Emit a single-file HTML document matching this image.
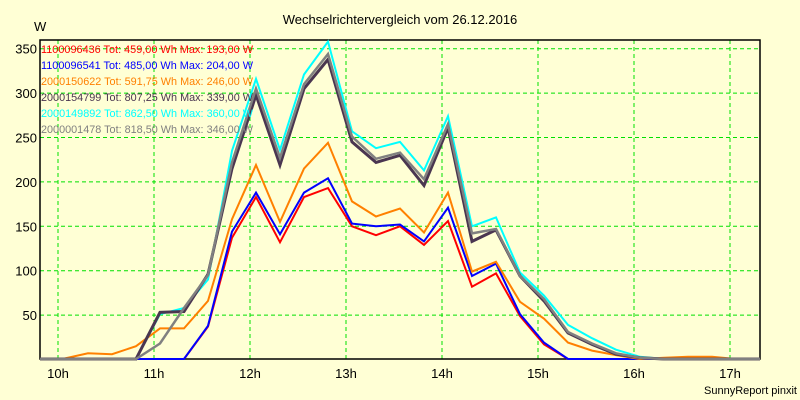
<!DOCTYPE html>
<html><head><meta charset="utf-8"><style>
html,body{margin:0;padding:0;background:#ffffd5;}
svg{display:block;font-family:"Liberation Sans",Arial,sans-serif;}
</style></head><body>
<svg id="chart" width="800" height="400" viewBox="0 0 800 400" xmlns="http://www.w3.org/2000/svg">
<rect width="800" height="400" fill="#ffffd5"/>
<text x="400" y="24" font-size="13" text-anchor="middle" fill="#000">Wechselrichtervergleich vom 26.12.2016</text>
<text x="34" y="31" font-size="13" fill="#000">W</text>
<text x="797" y="394" font-size="11" text-anchor="end" fill="#000">SunnyReport pinxit</text>
<g id="grid"></g>
<g id="axes"></g>
<g id="series"></g>
<g id="legend"></g>
</svg>
<script>
const startHour = 9.8125;
const stepHour = 0.25;
const yTicks = [50,100,150,200,250,300,350];
const xTicks = [10,11,12,13,14,15,16,17];
const seriesNames = ["1100096436","1100096541","2000150622","2000154799","2000149892","2000001478"];
const seriesTot = ["459,00","485,00","591,75","807,25","862,50","818,50"];
const seriesMax = ["193,00","204,00","246,00","339,00","360,00","346,00"];
const red = [0,0,0,0,0,0,0,37,137,183,132,183,193,150,140,150,129,156,82,97,49,17,0,0,0,0,0,0,0,0,0];
const blue = [0,0,0,0,0,0,0,38,144,188,141,188,204,153,150,152,133,171,94,108,51,19,0,0,0,0,0,0,0,0,0];
const orange = [0,1,7,6,15,35,35,66,158,219,155,215,244,178,161,170,143,188,99,110,65,46,19,10,5,0,2,3,3,0,0];
const dark = [0,0,0,0,0,53,54,96,215,298,219,305,338,245,222,230,196,261,133,146,94,66,30,17,6,2,0,0,0,0,0];
const cyan = [0,0,0,0,0,51,58,90,235,316,236,321,358,257,238,245,213,274,150,160,98,72,39,24,11,3,0,0,0,0,0];
const gray = [0,0,0,0,0,18,58,95,222,305,227,310,344,251,226,233,203,265,142,147,94,68,31,18,7,2,0,0,0,0,0];

const NS="http://www.w3.org/2000/svg";
const L=40,R=760,T=40,B=359;
function xs(h){return 58+96*(h-10);}
function ys(v){return Math.min(B,359.5-0.888*v);}
function mk(tag,attrs,parent){const e=document.createElementNS(NS,tag);for(const k in attrs)e.setAttribute(k,attrs[k]);parent.appendChild(e);return e;}
const grid=document.getElementById('grid'),axes=document.getElementById('axes'),ser=document.getElementById('series'),leg=document.getElementById('legend');
yTicks.forEach(v=>{
  const ln=mk('line',{x1:L,x2:R,y1:ys(v),y2:ys(v),stroke:'#00e000','stroke-dasharray':'4,3','stroke-width':1},grid);
  
  
  const t=mk('text',{x:37,y:ys(v)+5,'font-size':13,'text-anchor':'end',fill:'#000'},axes);
  t.textContent=v;
  
  
});
xTicks.forEach(h=>{
  const ln=mk('line',{x1:xs(h),x2:xs(h),y1:T,y2:B,stroke:'#00e000','stroke-dasharray':'4,3','stroke-width':1},grid);
  
  
  const t=mk('text',{x:xs(h),y:378,'font-size':13,'text-anchor':'middle',fill:'#000'},axes);
  t.textContent=h+'h';
  
  
});
const frame=mk('rect',{x:L,y:T,width:R-L,height:B-T,fill:'none',stroke:'#000','stroke-width':1.5},axes);


const all=[[red,'#ff0000',2],[blue,'#0000ff',2],[orange,'#ff8000',2],[dark,'#4a3650',3],[cyan,'#00ffff',2],[gray,'#808080',2.5]];
const order=[0,1,2,4,3,5];
const names=['line-red','line-blue','line-orange','line-dark','line-cyan','line-gray'];
order.forEach(k=>{
  const [d,c,w]=all[k];
  const pts=d.map((v,j)=>xs(startHour+stepHour*j).toFixed(1)+','+ys(v).toFixed(1)).join(' ');
  const p=mk('polyline',{points:pts,fill:'none',stroke:c,'stroke-width':w,'stroke-linejoin':'miter'},ser);
  
  
});
const legCols=['#ff0000','#0000ff','#ff8000','#4a3650','#00ffff','#808080'];
seriesNames.forEach((n,i)=>{
  const t=mk('text',{x:41,y:53+16*i,'font-size':11,fill:legCols[i],textLength:212,lengthAdjust:'spacingAndGlyphs'},leg);
  t.textContent=n+' Tot: '+seriesTot[i]+' Wh Max: '+seriesMax[i]+' W';
  
  
});
</script>
</body></html>
